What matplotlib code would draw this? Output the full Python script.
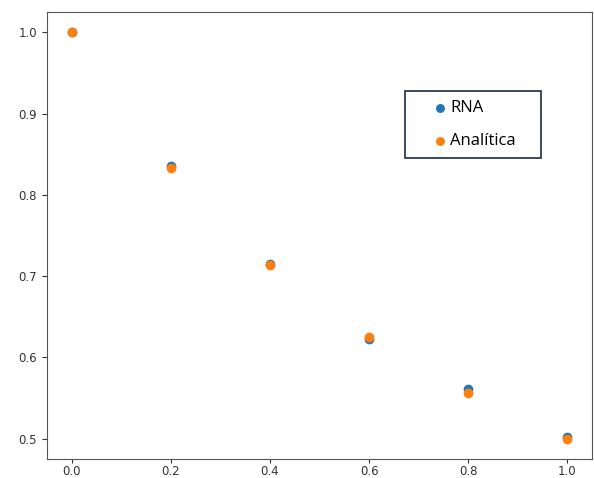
import numpy as np
import matplotlib.pyplot as plt
from matplotlib.patches import Rectangle

# inputs and outputs
x = [0.0, 0.2, 0.4, 0.6, 0.8, 1.0]
y_rna = [1.000, 0.835, 0.715, 0.622, 0.561, 0.502]
y_analitica = [1.000, 0.833, 0.714, 0.625, 0.556, 0.500]

fig, ax = plt.subplots(figsize=(5.94, 4.78), dpi=100)
fig.subplots_adjust(left=0.079, right=0.997, top=0.975, bottom=0.040)

ax.scatter(x, y_rna, s=36, color="tab:blue", label="RNA")
ax.scatter(x, y_analitica, s=36, color="tab:orange", label="Analítica")

ax.set_xticks([0.0, 0.2, 0.4, 0.6, 0.8, 1.0])
ax.set_yticks([0.5, 0.6, 0.7, 0.8, 0.9, 1.0])
ax.tick_params(labelsize=8.5, colors="#333333", length=3.5)
ax.tick_params(axis="x", pad=1.5, length=3)
for sp in ax.spines.values():
    sp.set_color("#555555")

# legend without its own frame, boxed separately
leg = ax.legend(loc="upper left", bbox_to_anchor=(0.712, 0.803),
                prop={"family": "Open Sans", "size": 12},
                frameon=False, handlelength=0.6, handletextpad=0.3,
                borderpad=0, borderaxespad=0, labelspacing=1.05,
                markerscale=0.9)
ax.add_patch(Rectangle((0.657, 0.674), 0.249, 0.150, transform=ax.transAxes,
                       fill=False, edgecolor="#2b3a55", linewidth=1.3,
                       zorder=5))

fig.savefig("out.png", dpi=100)
